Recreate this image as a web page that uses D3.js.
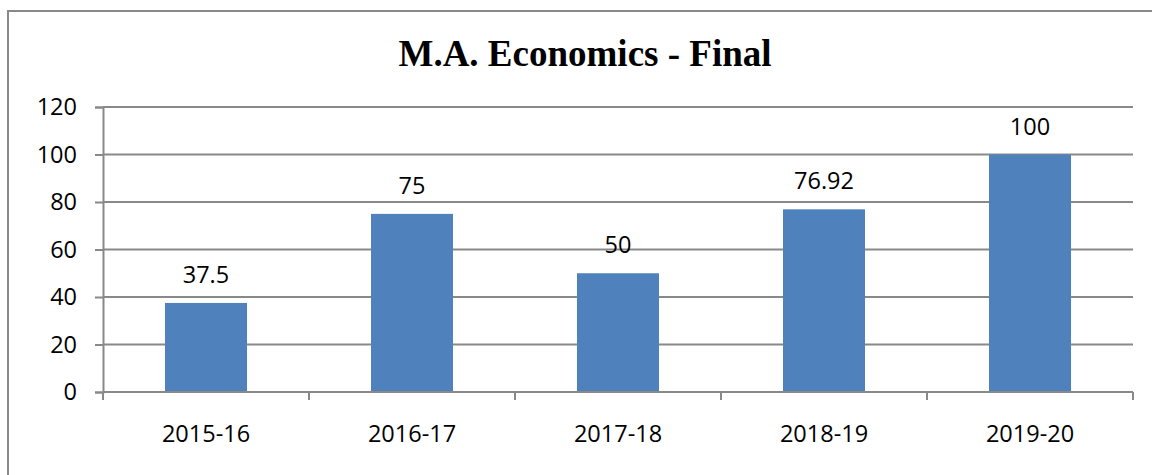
<!DOCTYPE html>
<html><head><meta charset="utf-8">
<script src="https://cdn.jsdelivr.net/npm/d3@7"></script>
<style>html,body{margin:0;padding:0;background:#fff;overflow:hidden}</style>
</head><body>
<svg id="chart" width="1152" height="475"></svg>
<script>
const categories = ["2015-16","2016-17","2017-18","2018-19","2019-20"];
const values = [37.5, 75, 50, 76.92, 100];
const labels = ["37.5","75","50","76.92","100"];
const yTicks = [0,20,40,60,80,100,120];
const title = "M.A. Economics - Final";

(function(){
const svg = d3.select("#chart");
const pLeft = 103, pRight = 1133, pTop = 107, pBottom = 392;
const gray = "#898989";
const fs = 23.5;

// outer border
svg.append("rect").attr("x",8).attr("y",11).attr("width",1160).attr("height",480)
  .attr("fill","none").attr("stroke",gray).attr("stroke-width",2);

const x = d3.scaleBand().domain(categories).range([pLeft,pRight]).paddingInner(0).paddingOuter(0);
const y = d3.scaleLinear().domain([0,120]).range([pBottom,pTop]);

// gridlines
svg.append("g").selectAll("line").data(yTicks).join("line")
  .attr("x1",pLeft).attr("x2",pRight).attr("y1",d=>y(d)).attr("y2",d=>y(d))
  .attr("stroke",gray).attr("stroke-width",2);

// y axis
const yAxis = svg.append("g").attr("transform",`translate(${pLeft},0)`)
  .call(d3.axisLeft(y).tickValues(yTicks).tickSize(8).tickPadding(18).tickFormat(d3.format("d")));
yAxis.select(".domain").attr("stroke",gray).attr("stroke-width",2);
yAxis.selectAll(".tick line").attr("stroke",gray).attr("stroke-width",2);
yAxis.selectAll("text").attr("font-family","'Open Sans', sans-serif").attr("font-size",fs).attr("fill","#000");

// bars
const bw = 82;
svg.append("g").selectAll("rect").data(values).join("rect")
  .attr("x",(d,i)=>x(categories[i])+x.bandwidth()/2-bw/2)
  .attr("width",bw)
  .attr("y",d=>y(d))
  .attr("height",d=>pBottom-y(d))
  .attr("fill","#4F81BD");

// x axis line
svg.append("line").attr("x1",pLeft).attr("x2",pRight).attr("y1",pBottom).attr("y2",pBottom)
  .attr("stroke",gray).attr("stroke-width",2);
// x tick marks at band boundaries
const bounds = categories.map(c=>x(c)).concat([pRight]);
svg.append("g").selectAll("line").data(bounds).join("line")
  .attr("x1",d=>d).attr("x2",d=>d).attr("y1",pBottom).attr("y2",pBottom+8)
  .attr("stroke",gray).attr("stroke-width",2);

// x labels
svg.append("g").selectAll("text").data(categories).join("text")
  .attr("x",d=>x(d)+x.bandwidth()/2).attr("y",442)
  .attr("text-anchor","middle").attr("font-family","'Open Sans', sans-serif")
  .attr("font-size",fs).attr("fill","#000").text(d=>d);

// data labels
svg.append("g").selectAll("text").data(values).join("text")
  .attr("x",(d,i)=>x(categories[i])+x.bandwidth()/2).attr("y",d=>y(d)-20)
  .attr("text-anchor","middle").attr("font-family","'Open Sans', sans-serif")
  .attr("font-size",fs).attr("fill","#000").text((d,i)=>labels[i]);

// title
svg.append("text").attr("x",585).attr("y",66).attr("text-anchor","middle")
  .attr("font-family","'Liberation Serif','Times New Roman',serif").attr("font-weight","bold")
  .attr("font-size",37).attr("fill","#000").text(title);
})();
</script>
</body></html>
